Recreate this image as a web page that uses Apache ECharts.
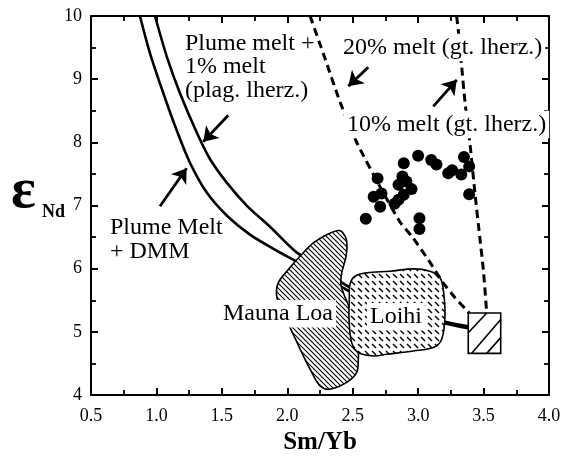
<!DOCTYPE html>
<html><head><meta charset="utf-8">
<script src="https://cdn.jsdelivr.net/npm/echarts@6/dist/echarts.min.js"></script>
<style>html,body{margin:0;padding:0;background:#fff}#c{width:571px;height:460px}</style>
</head><body><div id="c"></div>
<script>
// ---- data ----
const xRange = [0.5, 4.0];
const yRange = [4, 10];
const dmmCurve = [[0.874,10],[0.951,9.409],[1.050,8.794],[1.157,8.179],[1.257,7.674],[1.386,7.201],[1.539,6.839],[1.715,6.539],[1.891,6.318],[2.044,6.145],[2.250,5.91],[2.403,5.73],[2.495,5.62],[2.861,5.36],[3.190,5.14],[3.381,5.06]];
const plagCurve = [[0.989,10],[1.081,9.346],[1.180,8.778],[1.310,8.147],[1.409,7.737],[1.539,7.359],[1.692,6.996],[1.868,6.665],[2.074,6.255],[2.250,6.05],[2.403,5.80],[2.495,5.69],[2.861,5.40],[3.190,5.17],[3.381,5.09]];
const melt20 = [[2.174,10],[2.288,9.33],[2.403,8.64],[2.533,7.99],[2.708,7.30],[2.861,6.74],[2.953,6.51],[3.091,6.10],[3.190,5.78],[3.282,5.54],[3.390,5.30]];
const melt10 = [[3.294,10],[3.307,9.77],[3.333,9.19],[3.358,8.64],[3.396,7.98],[3.434,7.20],[3.473,6.46],[3.498,5.99],[3.524,5.30]];
const samples = [[3.00,7.79],[3.10,7.72],[3.14,7.65],[3.23,7.51],[3.26,7.56],[3.33,7.49],[3.35,7.77],[3.39,7.62],[3.39,7.18],[2.89,7.67],[2.69,7.43],[2.88,7.46],[2.85,7.33],[2.91,7.38],[2.95,7.26],[2.66,7.14],[2.72,7.19],[2.89,7.17],[2.85,7.09],[2.82,7.03],[2.71,6.98],[2.60,6.79],[3.01,6.80],[3.01,6.63]];
const maunaLoa = [[2.378,6.602],[2.418,6.586],[2.454,6.433],[2.449,6.197],[2.416,5.935],[2.410,5.751],[2.428,5.620],[2.479,5.356],[2.504,5.093],[2.540,4.804],[2.543,4.568],[2.530,4.358],[2.454,4.201],[2.326,4.095],[2.250,4.147],[2.187,4.358],[2.110,4.674],[2.034,5.014],[1.960,5.325],[1.919,5.566],[1.931,5.777],[2.008,5.987],[2.097,6.197],[2.199,6.408],[2.301,6.539]];
const loihi = [[2.479,5.751],[2.517,5.881],[2.607,5.935],[2.785,5.960],[2.963,5.998],[3.091,5.960],[3.167,5.856],[3.192,5.672],[3.205,5.251],[3.180,4.883],[3.116,4.752],[2.963,4.699],[2.760,4.647],[2.657,4.620],[2.543,4.674],[2.492,4.831],[2.472,5.199],[2.474,5.514]];
const plumeSource = [[3.383,5.30],[3.631,4.66]];
const arrows = [[[1.549,8.43],[1.358,8.01]],[[1.027,6.99],[1.231,7.59]],[[2.619,9.19],[2.466,8.89]],[[3.116,8.57],[3.295,8.99]]];
const annoText = ['Plume melt +\n1% melt\n(plag. lherz.)','20% melt (gt. lherz.)','10% melt (gt. lherz.)','Plume Melt\n+ DMM','Mauna Loa','Loihi'];
const annoPos = [[1.218,9.748],[2.426,9.689],[2.456,8.470],[0.645,6.831],[1.509,5.475],[2.632,5.427]];
const annoBg = [false,true,true,false,true,true];

// ---- patterns ----
function pat(size, draw){const c=document.createElement('canvas');c.width=c.height=size;const g=c.getContext('2d');g.fillStyle='#fff';g.fillRect(0,0,size,size);g.strokeStyle='#000';draw(g,size);return c;}
const mlPat = pat(5,(g,s)=>{g.lineWidth=1.1;g.beginPath();g.moveTo(-2,-2);g.lineTo(s+2,s+2);g.moveTo(-2,s-2);g.lineTo(2,s+2);g.moveTo(s-2,-2);g.lineTo(s+2,2);g.stroke();});
const loPat = pat(7,(g,s)=>{g.lineWidth=1.5;g.lineCap='butt';g.beginPath();g.moveTo(1,1);g.lineTo(5,5);g.stroke();});

const FONT = '"Liberation Serif","Times New Roman",serif';
const chart = echarts.init(document.getElementById('c'), null, {renderer:'canvas'});

function polySeries(pts, fill, z){
  return {type:'custom', coordinateSystem:'cartesian2d', z:z, clip:false, silent:true, data:[pts[0]],
    renderItem:(p,api)=>({type:'polygon', shape:{points:pts.map(q=>api.coord(q)), smooth:0.35},
      style:{fill:{image:fill, repeat:'repeat'}, stroke:'#000', lineWidth:1.6}})};
}

const axisCommon = {
  axisLine:{show:true, onZero:false, lineStyle:{color:'#000', width:2}},
  axisTick:{show:true, inside:true, length:7, lineStyle:{color:'#000', width:2}},
  minorTick:{show:true, splitNumber:2, length:5, lineStyle:{color:'#000', width:1.8}},
  splitLine:{show:false}
};

chart.setOption({
  animation:false,
  backgroundColor:'#fff',
  grid:{left:91, right:22, top:16, bottom:64},
  xAxis:[
    Object.assign({}, axisCommon, {type:'value', position:'bottom', min:xRange[0], max:xRange[1], interval:0.5,
      axisLabel:{margin:12, color:'#000', fontFamily:FONT, fontSize:18, formatter:v=>v.toFixed(1)},
      name:'Sm/Yb', nameLocation:'middle', nameGap:32, nameTextStyle:{color:'#000', fontFamily:FONT, fontSize:25, fontWeight:'bold'}}),
    Object.assign({}, axisCommon, {type:'value', position:'top', min:xRange[0], max:xRange[1], interval:0.5, axisLabel:{show:false}})
  ],
  yAxis:[
    Object.assign({}, axisCommon, {type:'value', position:'left', min:yRange[0], max:yRange[1], interval:1,
      axisLabel:{margin:9, color:'#000', fontFamily:FONT, fontSize:18}}),
    Object.assign({}, axisCommon, {type:'value', position:'right', min:yRange[0], max:yRange[1], interval:1, axisLabel:{show:false}})
  ],
  graphic:[
    {type:'text', x:11, y:163, style:{text:'ε', font:'bold 58px '+FONT, fill:'#000', verticalAlign:'top'}},
    {type:'text', x:42, y:203, style:{text:'Nd', font:'bold 18px '+FONT, fill:'#000', verticalAlign:'top'}}
  ],
  series:[
    {type:'line', data:dmmCurve, smooth:0.3, showSymbol:false, symbol:'none', z:2, lineStyle:{color:'#000', width:2.6}},
    {type:'line', data:plagCurve, smooth:0.3, showSymbol:false, symbol:'none', z:2, lineStyle:{color:'#000', width:2.6}},
    polySeries(maunaLoa, mlPat, 3),
    polySeries(loihi, loPat, 4),
    {type:'custom', coordinateSystem:'cartesian2d', z:5, silent:true, data:[plumeSource[0]],
      renderItem:(p,api)=>{
        const a=api.coord(plumeSource[0]), b=api.coord(plumeSource[1]);
        const w=b[0]-a[0], h=b[1]-a[1];
        const L=(fx1,fy1,fx2,fy2)=>({type:'line', shape:{x1:a[0]+fx1*w, y1:a[1]+fy1*h, x2:a[0]+fx2*w, y2:a[1]+fy2*h}, style:{stroke:'#000', lineWidth:1.6}});
        return {type:'group', children:[
          {type:'rect', shape:{x:a[0], y:a[1], width:w, height:h}, style:{fill:'#fff', stroke:'#000', lineWidth:1.6}},
          L(0,0.49,0.57,0), L(0.10,1,1,0.16), L(0.57,1,1,0.61)
        ]};
      }},
    {type:'line', data:melt20, smooth:0.2, showSymbol:false, symbol:'none', z:6, lineStyle:{color:'#000', width:3, type:[8,5]}},
    {type:'line', data:melt10, smooth:0.2, showSymbol:false, symbol:'none', z:6, lineStyle:{color:'#000', width:3, type:[8,5]}},
    {type:'scatter', data:samples, symbol:'circle', symbolSize:12, z:7, itemStyle:{color:'#000', opacity:1}},
    {type:'lines', coordinateSystem:'cartesian2d', z:8, symbol:['none','arrow'], symbolSize:14,
      lineStyle:{color:'#000', width:2.8, opacity:1}, data:arrows.map(c=>({coords:c}))},
    {type:'custom', coordinateSystem:'cartesian2d', z:9, clip:false, silent:true, data:annoPos,
      renderItem:(p,api)=>{
        const c=api.coord([api.value(0), api.value(1)]);
        const i=p.dataIndex;
        const bg=annoBg[i];
        return {type:'text', x:c[0]-(bg?3:0), y:c[1]-(bg?2:0), style:{text:annoText[i], font:'24px '+FONT, fill:'#000',
          align:'left', verticalAlign:'top', lineHeight:23.5, backgroundColor:bg?'#fff':null, padding:bg?[2,3,2,3]:0}};
      }}
  ]
});
</script></body></html>
